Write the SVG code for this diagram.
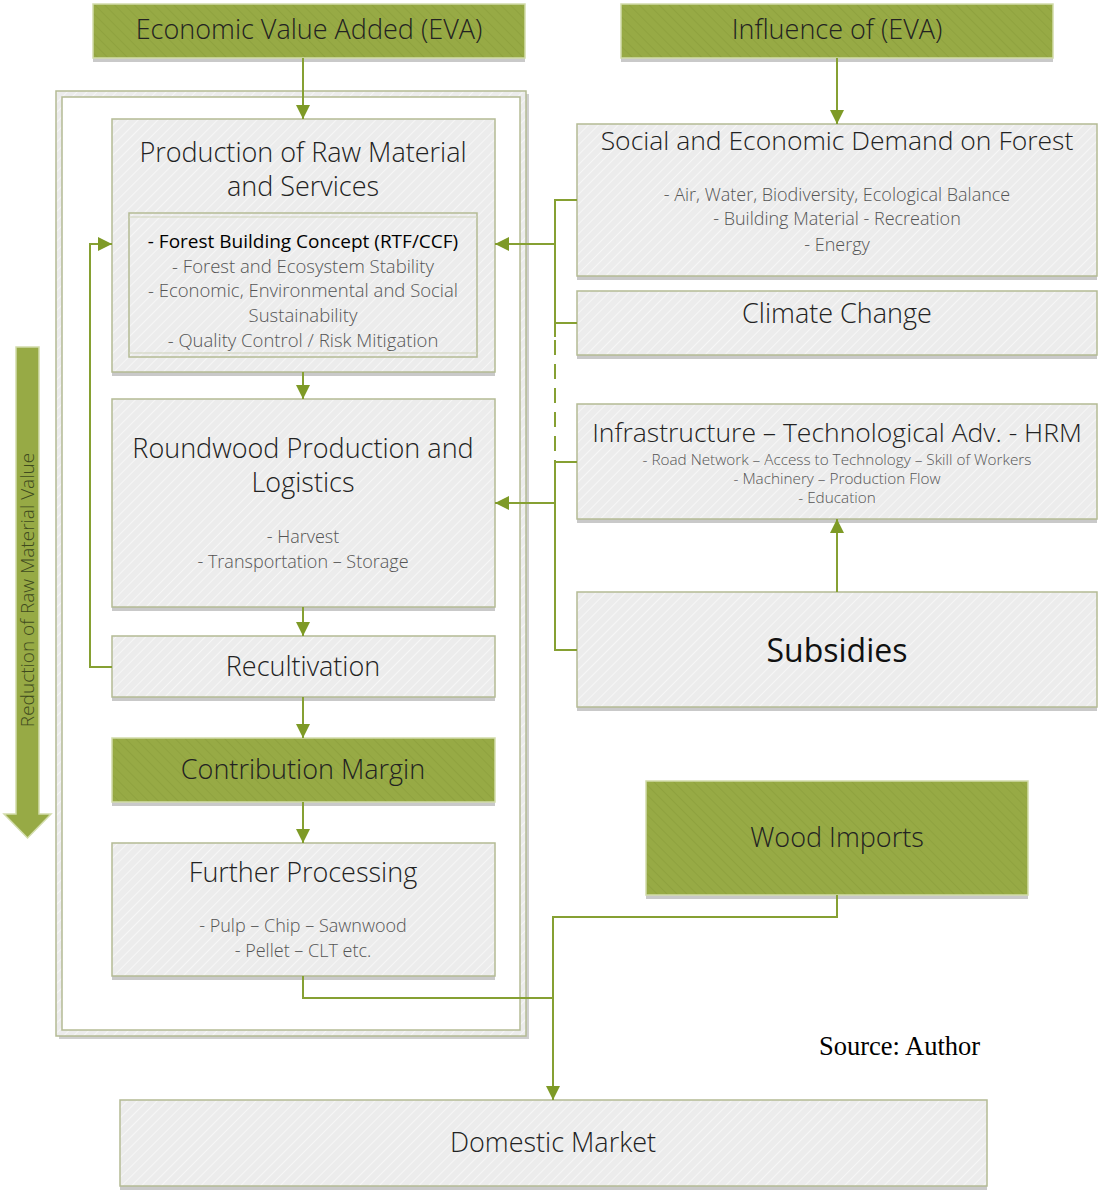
<svg xmlns="http://www.w3.org/2000/svg" width="1098" height="1191" viewBox="0 0 1098 1191">
<defs>
<pattern id="hatchG" patternUnits="userSpaceOnUse" width="7" height="7" patternTransform="rotate(45)">
<rect width="7" height="7" fill="#ececec"/>
<line x1="0" y1="0" x2="0" y2="7" stroke="#f6f6f6" stroke-width="2"/>
</pattern>
<pattern id="hatchV" patternUnits="userSpaceOnUse" width="7" height="7" patternTransform="rotate(-45)">
<rect width="7" height="7" fill="#97aa45"/>
<line x1="0" y1="0" x2="0" y2="7" stroke="#8fa23f" stroke-width="2"/>
</pattern>
<marker id="arr" markerUnits="userSpaceOnUse" markerWidth="16" markerHeight="16" refX="14" refY="7" orient="auto">
<path d="M0,0 L14,7 L0,14 z" fill="#7e9a26"/>
</marker>
<style>
.box{fill:url(#hatchG);stroke:#b4bb94;stroke-width:1.5}
.gbox{fill:url(#hatchV);stroke:#d2dcaa;stroke-width:1.5}
.sh{fill:#c9c9c9}
.t{font-family:"Open Sans","Lato","DejaVu Sans",sans-serif;font-weight:300;fill:#222;text-anchor:middle}
.s{font-family:"Open Sans","Lato","DejaVu Sans",sans-serif;font-weight:300;fill:#555;text-anchor:middle}
.c{fill:none;stroke:#86a032;stroke-width:2}
</style>
</defs>

<g id="container">
<rect x="59" y="94" width="470" height="945" fill="#cfcfcf"/>
<rect x="56" y="91" width="470" height="945" fill="url(#hatchG)" stroke="#b4bb94" stroke-width="1.5"/>
<rect x="62" y="97" width="458" height="933" fill="#ffffff" stroke="#b4bb94" stroke-width="1.5"/>
</g>

<g id="eva">
<rect class="sh" x="93" y="58" width="432" height="4"/>
<rect class="gbox" x="93" y="4" width="432" height="54"/>
<text class="t" x="309" y="39" font-size="27">Economic Value Added (EVA)</text>
</g>

<g id="influence">
<rect class="sh" x="621" y="58" width="432" height="4"/>
<rect class="gbox" x="621" y="4" width="432" height="54"/>
<text class="t" x="837" y="39" font-size="27">Influence of (EVA)</text>
</g>

<g id="production">
<rect class="sh" x="112" y="372" width="383" height="4"/>
<rect class="box" x="112" y="119" width="383" height="253"/>
<text class="t" x="303" y="162" font-size="27">Production of Raw Material</text>
<text class="t" x="303" y="196" font-size="27">and Services</text>
<rect x="129" y="213" width="348" height="144" fill="none" stroke="#b4bb94" stroke-width="1.5"/>
<line x1="129" y1="217" x2="477" y2="217" stroke="#cfd3bb" stroke-width="1"/>
<line x1="129" y1="353" x2="477" y2="353" stroke="#cfd3bb" stroke-width="1"/>
<text class="t" x="303" y="248" font-size="19" style="font-weight:400;fill:#000">- Forest Building Concept (RTF/CCF)</text>
<text class="s" x="303" y="273" font-size="18.5">- Forest and Ecosystem Stability</text>
<text class="s" x="303" y="297" font-size="18.5">- Economic, Environmental and Social</text>
<text class="s" x="303" y="322" font-size="18.5">Sustainability</text>
<text class="s" x="303" y="347" font-size="18.5">- Quality Control / Risk Mitigation</text>
</g>

<g id="roundwood">
<rect class="sh" x="112" y="607" width="383" height="4"/>
<rect class="box" x="112" y="399" width="383" height="208"/>
<text class="t" x="303" y="458" font-size="27">Roundwood Production and</text>
<text class="t" x="303" y="492" font-size="27">Logistics</text>
<text class="s" x="303" y="543" font-size="18">- Harvest</text>
<text class="s" x="303" y="568" font-size="18">- Transportation – Storage</text>
</g>

<g id="recultivation">
<rect class="sh" x="112" y="697" width="383" height="4"/>
<rect class="box" x="112" y="636" width="383" height="61"/>
<text class="t" x="303" y="676" font-size="27">Recultivation</text>
</g>

<g id="contribution">
<rect class="sh" x="112" y="802" width="383" height="4"/>
<rect class="gbox" x="112" y="738" width="383" height="64"/>
<text class="t" x="303" y="779" font-size="27">Contribution Margin</text>
</g>

<g id="further">
<rect class="sh" x="112" y="976" width="383" height="4"/>
<rect class="box" x="112" y="843" width="383" height="133"/>
<text class="t" x="303" y="882" font-size="27">Further Processing</text>
<text class="s" x="303" y="932" font-size="18">- Pulp – Chip – Sawnwood</text>
<text class="s" x="303" y="957" font-size="18">- Pellet – CLT etc.</text>
</g>

<g id="social">
<rect class="sh" x="577" y="276" width="520" height="4"/>
<rect class="box" x="577" y="124" width="520" height="152"/>
<text class="t" x="837" y="150" font-size="26.5">Social and Economic Demand on Forest</text>
<text class="s" x="837" y="201" font-size="18">- Air, Water, Biodiversity, Ecological Balance</text>
<text class="s" x="837" y="225" font-size="18">- Building Material - Recreation</text>
<text class="s" x="837" y="251" font-size="18">- Energy</text>
</g>

<g id="climate">
<rect class="sh" x="577" y="355" width="520" height="4"/>
<rect class="box" x="577" y="291" width="520" height="64"/>
<text class="t" x="837" y="323" font-size="27">Climate Change</text>
</g>

<g id="infrastructure">
<rect class="sh" x="577" y="519" width="520" height="4"/>
<rect class="box" x="577" y="404" width="520" height="115"/>
<text class="t" x="837" y="442" font-size="26.5">Infrastructure – Technological Adv. - HRM</text>
<text class="s" x="837" y="465" font-size="15.3">- Road Network – Access to Technology – Skill of Workers</text>
<text class="s" x="837" y="484" font-size="15.3">- Machinery – Production Flow</text>
<text class="s" x="837" y="503" font-size="15.3">- Education</text>
</g>

<g id="subsidies">
<rect class="sh" x="577" y="707" width="520" height="4"/>
<rect class="box" x="577" y="592" width="520" height="115"/>
<text class="t" x="837" y="662" font-size="32" style="font-weight:400;fill:#111">Subsidies</text>
</g>

<g id="woodimports">
<rect class="sh" x="646" y="895" width="382" height="4"/>
<rect class="gbox" x="646" y="781" width="382" height="114"/>
<text class="t" x="837" y="847" font-size="27">Wood Imports</text>
</g>

<g id="domestic">
<rect class="sh" x="120" y="1186" width="867" height="4"/>
<rect class="box" x="120" y="1100" width="867" height="86"/>
<text class="t" x="553" y="1152" font-size="27">Domestic Market</text>
</g>

<g id="reduction">
<path d="M16,347 L39,347 L39,814 L51,814 L27.5,838 L4,814 L16,814 Z" fill="#97aa45" stroke="#d2dcaa" stroke-width="1.5"/>
<text class="t" transform="translate(34,590) rotate(-90)" font-size="19" style="fill:#3f4a1e">Reduction of Raw Material Value</text>
</g>

<g id="source">
<text x="819" y="1055" font-family="Liberation Serif, serif" font-size="26.5" fill="#000">Source: Author</text>
</g>

<g id="connectors">
<line class="c" x1="303" y1="58" x2="303" y2="119" marker-end="url(#arr)"/>
<line class="c" x1="837" y1="58" x2="837" y2="124" marker-end="url(#arr)"/>
<line class="c" x1="303" y1="372" x2="303" y2="399" marker-end="url(#arr)"/>
<line class="c" x1="303" y1="607" x2="303" y2="636" marker-end="url(#arr)"/>
<line class="c" x1="303" y1="697" x2="303" y2="738" marker-end="url(#arr)"/>
<line class="c" x1="303" y1="802" x2="303" y2="843" marker-end="url(#arr)"/>
<polyline class="c" points="112,667 90,667 90,244 112,244" marker-end="url(#arr)"/>
<polyline class="c" points="577,200 555,200 555,337"/>
<line class="c" x1="555" y1="323" x2="577" y2="323"/>
<line class="c" x1="555" y1="340" x2="555" y2="462" stroke-dasharray="15,9"/>
<polyline class="c" points="577,462 555,462 555,650 577,650"/>
<line class="c" x1="555" y1="244" x2="495" y2="244" marker-end="url(#arr)"/>
<line class="c" x1="555" y1="503" x2="495" y2="503" marker-end="url(#arr)"/>
<line class="c" x1="837" y1="592" x2="837" y2="519" marker-end="url(#arr)"/>
<polyline class="c" points="837,895 837,917 553,917 553,1100" marker-end="url(#arr)"/>
<polyline class="c" points="303,976 303,998 553,998"/>
</g>
</svg>
